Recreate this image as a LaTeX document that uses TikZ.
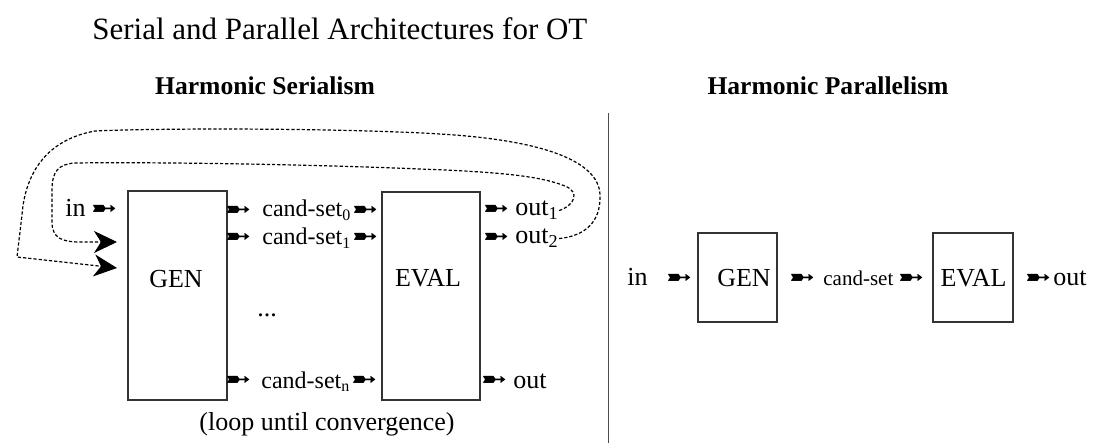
\documentclass[tikz,border=0pt]{standalone}
\usepackage{fontspec}
\setmainfont{Liberation Serif}
\newfontfamily\dingfont{DejaVu Sans}
\usetikzlibrary{positioning,arrows.meta}
\newcommand{\dart}{\scalebox{1.45}[1.1]{\dingfont\fontsize{11}{11}\selectfont\char"27BC}}
\tikzset{
	box/.style={draw=black!80, line width=0.8pt, inner sep=0pt},
	lbl/.style={font=\fontsize{13}{15}\selectfont, inner sep=0pt},
	cand/.style={font=\fontsize{12}{14}\selectfont, inner sep=0pt},
	smallcand/.style={font=\fontsize{10.5}{12}\selectfont, inner sep=0pt},
	head/.style={font=\fontsize{12.8}{15}\selectfont\bfseries, inner sep=0pt},
	dartn/.style={inner sep=0pt},
	loopline/.style={line width=0.6pt, dash pattern=on 1.6pt off 1pt,
		-{Stealth[length=11.5pt,width=11pt,inset=3.5pt]}}
}

\begin{document}
\begin{tikzpicture}[x=0.5pt, y=-0.5pt]
	\useasboundingbox (0,0) rectangle (1109,443);

		% Titles and divider
		\node[font=\fontsize{15.5}{18}\selectfont, anchor=base west, inner sep=0pt] (title) at (92,40)
			{Serial and Parallel Architectures for OT};
		\node[head, anchor=base] (serhead) at (265,95) {Harmonic Serialism};
		\node[head, anchor=base] (parhead) at (828,95) {Harmonic Parallelism};
		\draw[black!70, line width=0.5pt] (608,113) -- (608,443);

		% Harmonic Serialism: boxes
		\node[box, minimum width=49.5pt, minimum height=104.5pt] (sgen) at (177.5,295.5) {};
		\node[box, minimum width=49pt, minimum height=104pt] (seval) at (431,296) {};
		\node[lbl, anchor=base] (sgenlbl) at (176,288) {GEN};
		\node[lbl, anchor=base] (sevallbl) at (428,287) {EVAL};

		% Harmonic Serialism: streams
		\node[lbl, anchor=base west] (sin) at (65,217) {in};
		\node[dartn] (sind) at (104,211) {\dart};
		\node[dartn] (d0a) at (238,212) {\dart};
		\node[cand, anchor=base west] (cset0) at (262,217) {cand-set\textsubscript{0}};
		\node[dartn] (d0b) at (365,212) {\dart};
		\node[dartn] (d1a) at (238,239) {\dart};
		\node[cand, anchor=base west] (cset1) at (262,245) {cand-set\textsubscript{1}};
		\node[dartn] (d1b) at (365,239) {\dart};
		\node[lbl, anchor=base] (dots) at (267,317) {...};
		\node[dartn] (dna) at (238,382) {\dart};
		\node[cand, anchor=base west] (csetn) at (261,388) {cand-set\textsubscript{n}};
		\node[dartn] (dnb) at (364,382) {\dart};
		\node[dartn] (o1d) at (496,211) {\dart};
		\node[lbl, anchor=base west] (out1) at (515,216) {out\textsubscript{1}};
		\node[dartn] (o2d) at (496,239) {\dart};
		\node[lbl, anchor=base west] (out2) at (515,244) {out\textsubscript{2}};
		\node[dartn] (ond) at (494,382) {\dart};
		\node[lbl, anchor=base west] (outn) at (513,388) {out};
		\node[lbl, anchor=base] (conv) at (327,430) {(loop until convergence)};

		% Feedback loops
		\coordinate (fb1) at (117,242);
		\coordinate (fb2) at (117,268);
		\draw[loopline] (out1.east) .. controls (575,205) and (580,192) .. (565,186)
			.. controls (540,176) and (500,172) .. (420,169)
			.. controls (300,164) and (150,162) .. (75,163)
			.. controls (58,164) and (52,172) .. (52,190) -- (52,222)
			.. controls (52,238) and (62,242) .. (80,242) -- (fb1);
		\draw[loopline] (out2.east) .. controls (585,236) and (601,222) .. (600,195)
			.. controls (599,160) and (540,140) .. (440,134)
			.. controls (340,128) and (160,128) .. (95,131)
			.. controls (45,140) and (25,175) .. (22,215) -- (17,257) -- (fb2);

		% Harmonic Parallelism
		\node[lbl, anchor=base west] (pin) at (627,286) {in};
		\node[dartn] (pind) at (679,280) {\dart};
		\node[box, minimum width=39.5pt, minimum height=44.5pt] (pgen) at (737.5,277.5) {};
		\node[lbl, anchor=base] (pgenlbl) at (744,287) {GEN};
		\node[dartn] (pca) at (802,280) {\dart};
		\node[smallcand, anchor=base west] (pcand) at (823,286) {cand-set};
		\node[dartn] (pcb) at (911,280) {\dart};
		\node[box, minimum width=40pt, minimum height=44.5pt] (peval) at (973,277.5) {};
		\node[lbl, anchor=base] (pevallbl) at (973.5,287) {EVAL};
		\node[dartn] (poutd) at (1038,280) {\dart};
		\node[lbl, anchor=base west] (pout) at (1053,286) {out};

	\end{tikzpicture}
\end{document}
